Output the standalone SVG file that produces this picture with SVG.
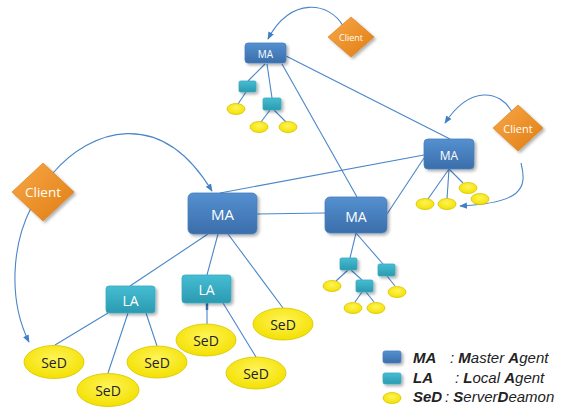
<svg xmlns="http://www.w3.org/2000/svg" width="573" height="409" viewBox="0 0 573 409">
<defs>
<linearGradient id="gMA" x1="0" y1="0" x2="0" y2="1"><stop offset="0" stop-color="#5590d0"/><stop offset="1" stop-color="#3a6eaa"/></linearGradient>
<linearGradient id="gLA" x1="0" y1="0" x2="0" y2="1"><stop offset="0" stop-color="#45bdd3"/><stop offset="1" stop-color="#2b9ab0"/></linearGradient>
<linearGradient id="gCl" x1="0" y1="0" x2="1" y2="1"><stop offset="0" stop-color="#f8a848"/><stop offset="1" stop-color="#e07d12"/></linearGradient>
<radialGradient id="gSeD" cx="0.5" cy="0.4" r="0.6"><stop offset="0" stop-color="#fff45a"/><stop offset="1" stop-color="#f3e000"/></radialGradient>
<filter id="sh" x="-20%" y="-20%" width="150%" height="160%"><feDropShadow dx="2" dy="2" stdDeviation="1.5" flood-color="#000" flood-opacity="0.3"/></filter>
<marker id="arr" viewBox="0 0 10 10" refX="9" refY="5" markerWidth="7" markerHeight="7" orient="auto-start-reverse"><path d="M0,1 L10,5 L0,9 z" fill="#3f7fc4"/></marker>
<style>
.ma{fill:url(#gMA);stroke:#4a7fbf;stroke-width:0.8;filter:url(#sh)}
.la{fill:url(#gLA);stroke:#3aa9be;stroke-width:0.8;filter:url(#sh)}
.sed{fill:url(#gSeD);stroke:#d8c400;stroke-width:0.8}
.cl{fill:url(#gCl);stroke:#d77a10;stroke-width:0.6;filter:url(#sh)}
.ln{stroke:#4a86c8;stroke-width:1.1;fill:none}
.arc{stroke:#4a86c8;stroke-width:1.1;fill:none;marker-end:url(#arr)}
.wt{font-family:"Open Sans","Liberation Sans",sans-serif;fill:#ffffff;text-anchor:middle;dominant-baseline:central}
.bt{font-family:"Open Sans","Liberation Sans",sans-serif;fill:#222222;text-anchor:middle;dominant-baseline:central}
.lg{font-family:"Liberation Sans",Arial,sans-serif;font-size:15px;font-style:italic;fill:#222}
.b{font-weight:bold}
</style>
</defs>

<g id="connectors">
<line class="ln" x1="286" y1="56" x2="450" y2="139"/>
<line class="ln" x1="282" y1="64" x2="357" y2="197"/>
<line class="ln" x1="265" y1="64" x2="248" y2="81"/>
<line class="ln" x1="267" y1="64" x2="272" y2="98"/>
<line class="ln" x1="246" y1="92" x2="238" y2="104"/>
<line class="ln" x1="270" y1="110" x2="261" y2="122"/>
<line class="ln" x1="274" y1="110" x2="286" y2="122"/>
<line class="ln" x1="449" y1="169" x2="428" y2="199"/>
<line class="ln" x1="449" y1="169" x2="447" y2="199"/>
<line class="ln" x1="449" y1="169" x2="463" y2="183"/>
<line class="ln" x1="424" y1="155" x2="220" y2="193"/>
<line class="ln" x1="424" y1="158" x2="387" y2="214"/>
<line class="ln" x1="257" y1="214" x2="325" y2="213"/>
<line class="ln" x1="208" y1="234" x2="130" y2="286"/>
<line class="ln" x1="218" y1="234" x2="207" y2="275"/>
<line class="ln" x1="228" y1="234" x2="283" y2="308"/>
<line class="ln" x1="356" y1="233" x2="350" y2="258"/>
<line class="ln" x1="356" y1="233" x2="383" y2="264"/>
<line class="ln" x1="348" y1="270" x2="336" y2="281"/>
<line class="ln" x1="351" y1="270" x2="362" y2="280"/>
<line class="ln" x1="387" y1="276" x2="395" y2="286"/>
<line class="ln" x1="362" y1="292" x2="355" y2="302"/>
<line class="ln" x1="366" y1="292" x2="374" y2="302"/>
<line class="ln" x1="108" y1="313" x2="55" y2="345"/>
<line class="ln" x1="128" y1="313" x2="108" y2="373"/>
<line class="ln" x1="146" y1="313" x2="157" y2="346"/>
<line class="ln" x1="207" y1="303" x2="207" y2="324"/>
<line x1="207" y1="303" x2="207" y2="310" stroke="#3a6eaa" stroke-width="2.5"/>
<line class="ln" x1="223" y1="303" x2="256" y2="357"/>
<path class="arc" d="M343,26 C330,2 290,-4 268,39"/>
<path class="arc" d="M512,112 C500,90 470,85 445,123"/>
<path class="arc" d="M521,163 C528,190 520,203 460,206"/>
<path class="arc" d="M53,173 C90,130 160,105 212,191"/>
<path class="arc" d="M31,208 C12,245 8,300 29,342"/>
</g>

<g id="ma-top"><rect class="ma" x="245" y="43" width="41" height="20" rx="3"/><text class="wt" x="265.5" y="53.5" font-size="10">MA</text></g>
<g id="la-top-1"><rect class="la" x="239" y="81" width="17" height="11" rx="1.5"/></g>
<g id="la-top-2"><rect class="la" x="263" y="98" width="18" height="12" rx="1.5"/></g>
<g id="sed-top-1"><ellipse class="sed" cx="236" cy="109" rx="9" ry="5.5"/></g>
<g id="sed-top-2"><ellipse class="sed" cx="259" cy="127" rx="9" ry="5.5"/></g>
<g id="sed-top-3"><ellipse class="sed" cx="288" cy="127" rx="9" ry="5.5"/></g>

<g id="client-top"><polygon class="cl" points="351,17 374,37 351,57 328,37"/><text class="wt" x="351" y="37" font-size="9">Client</text></g>
<g id="client-right"><polygon class="cl" points="518,105 543,128 518,151 493,128"/><text class="wt" x="518" y="128" font-size="11">Client</text></g>
<g id="client-left"><polygon class="cl" points="43,163 74,192 43,221 12,192"/><text class="wt" x="43" y="192" font-size="13.5">Client</text></g>

<g id="ma-right"><rect class="ma" x="424" y="139" width="50" height="30" rx="4"/><text class="wt" x="449" y="155" font-size="12">MA</text></g>
<g id="sed-right-1"><ellipse class="sed" cx="425" cy="204" rx="9" ry="5.5"/></g>
<g id="sed-right-2"><ellipse class="sed" cx="447" cy="204" rx="9" ry="5.5"/></g>
<g id="sed-right-3"><ellipse class="sed" cx="468" cy="188" rx="9" ry="5.5"/></g>
<g id="sed-right-4"><ellipse class="sed" cx="480" cy="199" rx="9" ry="5.5"/></g>

<g id="ma-big"><rect class="ma" x="188" y="193" width="69" height="41" rx="5"/><text class="wt" x="222.5" y="214" font-size="15">MA</text></g>
<g id="ma-mid"><rect class="ma" x="325" y="197" width="62" height="36" rx="5"/><text class="wt" x="356" y="216" font-size="14">MA</text></g>

<g id="la-mid-1"><rect class="la" x="340" y="258" width="17" height="12" rx="1.5"/></g>
<g id="la-mid-2"><rect class="la" x="378" y="264" width="17" height="12" rx="1.5"/></g>
<g id="la-mid-3"><rect class="la" x="356" y="280" width="17" height="12" rx="1.5"/></g>
<g id="sed-mid-1"><ellipse class="sed" cx="332" cy="286" rx="9" ry="5.5"/></g>
<g id="sed-mid-2"><ellipse class="sed" cx="397" cy="292" rx="9" ry="5.5"/></g>
<g id="sed-mid-3"><ellipse class="sed" cx="353" cy="308" rx="9" ry="5.5"/></g>
<g id="sed-mid-4"><ellipse class="sed" cx="376" cy="308" rx="9" ry="5.5"/></g>

<g id="la-1"><rect class="la" x="106" y="286" width="49" height="27" rx="3"/><text class="wt" x="130.5" y="300" font-size="14">LA</text></g>
<g id="la-2"><rect class="la" x="182" y="275" width="49" height="28" rx="3"/><text class="wt" x="206.5" y="289" font-size="14">LA</text></g>

<g id="sed-1"><ellipse class="sed" cx="54" cy="362" rx="30" ry="16.5"/><text class="bt" x="54" y="362" font-size="14">SeD</text></g>
<g id="sed-2"><ellipse class="sed" cx="108" cy="390" rx="31" ry="16.5"/><text class="bt" x="108" y="390" font-size="14">SeD</text></g>
<g id="sed-3"><ellipse class="sed" cx="157" cy="362" rx="30" ry="16"/><text class="bt" x="157" y="362" font-size="14">SeD</text></g>
<g id="sed-4"><ellipse class="sed" cx="206" cy="340" rx="30" ry="16"/><text class="bt" x="206" y="340" font-size="14">SeD</text></g>
<g id="sed-5"><ellipse class="sed" cx="256" cy="373" rx="30" ry="16"/><text class="bt" x="256" y="373" font-size="14">SeD</text></g>
<g id="sed-6"><ellipse class="sed" cx="283" cy="324" rx="30" ry="16"/><text class="bt" x="283" y="324" font-size="14">SeD</text></g>

<g id="legend">
<rect class="ma" x="383" y="351" width="18" height="12" rx="2"/>
<rect class="la" x="383" y="373" width="18" height="11" rx="2"/>
<ellipse class="sed" cx="392" cy="398" rx="9" ry="5.5"/>
<text class="lg" x="413" y="363"><tspan class="b">MA</tspan><tspan x="450">: </tspan><tspan class="b">M</tspan>aster <tspan class="b">A</tspan>gent</text>
<text class="lg" x="413" y="383"><tspan class="b">LA</tspan><tspan x="455">: </tspan><tspan class="b">L</tspan>ocal <tspan class="b">A</tspan>gent</text>
<text class="lg" x="413" y="402"><tspan class="b">SeD</tspan><tspan x="445">: </tspan><tspan class="b">S</tspan>erver<tspan class="b">D</tspan>eamon</text>
</g>
</svg>
